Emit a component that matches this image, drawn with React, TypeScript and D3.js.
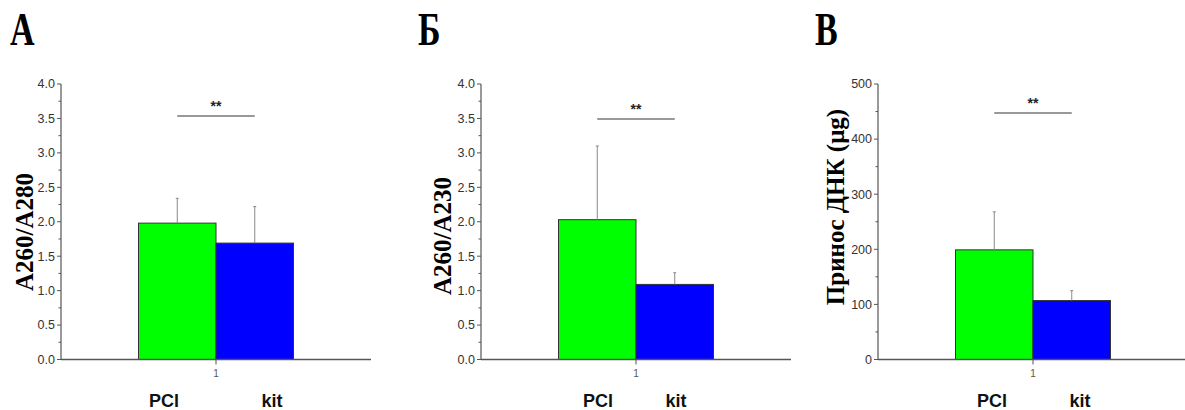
import React from 'react';
import * as d3 from 'd3';

const width = 1185;
const height = 410;

const groups = ['PCl', 'kit'];
const groupColors = ['#00ff00', '#0000ff'];

// A: A260/A280
const ratio280 = [1.98, 1.69];
const ratio280Err = [0.36, 0.53];
// Б: A260/A230
const ratio230 = [2.03, 1.09];
const ratio230Err = [1.07, 0.17];
// B: DNA yield
const dnaYield = [199, 107];
const dnaYieldErr = [69, 18];

const ratioTicks = [0, 0.5, 1, 1.5, 2, 2.5, 3, 3.5, 4];
const yieldTicks = [0, 100, 200, 300, 400, 500];

const panels = [
  { letter: 'A', label: 'A260/A280', values: ratio280, errors: ratio280Err, ticks: ratioTicks, max: 4, fmt: d3.format('.1f'),
    left: 61, letterX: 10, labelX: 25, labelY: 232, sigY: 116, groupDx: [-52, 56] },
  { letter: 'Б', label: 'A260/A230', values: ratio230, errors: ratio230Err, ticks: ratioTicks, max: 4, fmt: d3.format('.1f'),
    left: 481, letterX: 418, labelX: 443, labelY: 236, sigY: 119, groupDx: [-38, 40] },
  { letter: 'B', label: 'Принос ДНК (μg)', values: dnaYield, errors: dnaYieldErr, ticks: yieldTicks, max: 500, fmt: d3.format('d'),
    left: 878, letterX: 815, labelX: 836, labelY: 207, sigY: 113, groupDx: [-41, 47] },
];

const plotTop = 84;
const plotBottom = 359.5;
const plotWidth = 310;
const axisColor = '#555';

const Panel = ({ p }) => {
  const y = d3.scaleLinear().domain([0, p.max]).range([plotBottom, plotTop]);
  const x = d3.scaleLinear().domain([0, 2]).range([p.left, p.left + plotWidth]);
  const step = p.ticks[1] - p.ticks[0];
  const minor = p.ticks.slice(0, -1).map(t => t + step / 2);
  const barStarts = [0.5, 1];
  const center = x(1);
  return (
    <g>
      <text
        x={p.letterX}
        y={45}
        fontFamily="'Liberation Serif', serif"
        fontWeight="bold"
        fontSize={46}
        transform={`translate(${p.letterX},0) scale(0.74,1) translate(${-p.letterX},0)`}
      >
        {p.letter}
      </text>
      {groups.map((g, i) => {
        const x0 = x(barStarts[i]);
        const x1 = x(barStarts[i] + 0.5);
        const cx = (x0 + x1) / 2;
        return (
          <g key={g}>
            <rect x={x0} y={y(p.values[i])} width={x1 - x0} height={y(0) - y(p.values[i])}
              fill={groupColors[i]} stroke="#333" strokeWidth={1} />
            <line x1={cx} x2={cx} y1={y(p.values[i])} y2={y(p.values[i] + p.errors[i])} stroke="#888" strokeWidth={1} />
            <line x1={cx - 1.5} x2={cx + 1.5} y1={y(p.values[i] + p.errors[i])} y2={y(p.values[i] + p.errors[i])} stroke="#888" strokeWidth={1} />
            <text x={center + p.groupDx[i]} y={407} textAnchor="middle"
              fontFamily="'Liberation Sans', Arial, sans-serif" fontWeight="bold" fontSize={18} fill="#111">
              {g}
            </text>
          </g>
        );
      })}
      {/* y axis */}
      <line x1={p.left} x2={p.left} y1={plotTop} y2={plotBottom} stroke={axisColor} strokeWidth={1.2} />
      {p.ticks.map(t => (
        <g key={t}>
          <line x1={p.left - 4} x2={p.left} y1={y(t)} y2={y(t)} stroke={axisColor} strokeWidth={1} />
          <text x={p.left - 6} y={y(t)} dy="0.35em" textAnchor="end"
            fontFamily="'Liberation Sans', Arial, sans-serif" fontSize={12.5} fill="#333">
            {p.fmt(t)}
          </text>
        </g>
      ))}
      {minor.map(t => (
        <line key={t} x1={p.left - 2.5} x2={p.left} y1={y(t)} y2={y(t)} stroke={axisColor} strokeWidth={1} />
      ))}
      {/* x axis */}
      <line x1={p.left} x2={p.left + plotWidth} y1={plotBottom} y2={plotBottom} stroke={axisColor} strokeWidth={1.5} />
      <line x1={center} x2={center} y1={plotBottom} y2={plotBottom + 5} stroke={axisColor} strokeWidth={1} />
      <text x={center} y={377} textAnchor="middle" fontFamily="'Liberation Sans', Arial, sans-serif" fontSize={10} fill="#555">1</text>
      {/* significance */}
      <line x1={x(0.75)} x2={x(1.25)} y1={p.sigY} y2={p.sigY} stroke="#777" strokeWidth={1.5} />
      <text x={center} y={p.sigY - 5} textAnchor="middle"
        fontFamily="'Liberation Sans', Arial, sans-serif" fontWeight="bold" fontSize={14} fill="#222">**</text>
      {/* y label */}
      <text
        transform={`translate(${p.labelX + 8},${p.labelY}) rotate(-90)`}
        textAnchor="middle"
        fontFamily="'Liberation Serif', serif"
        fontWeight="bold"
        fontSize={25}
        fill="#000"
      >
        {p.label}
      </text>
    </g>
  );
};

const App = () => (
  <svg width={width} height={height} style={{ position: 'absolute', left: 0, top: 0, background: '#fff' }}>
    {panels.map(p => <Panel key={p.letter} p={p} />)}
  </svg>
);

export default App;
